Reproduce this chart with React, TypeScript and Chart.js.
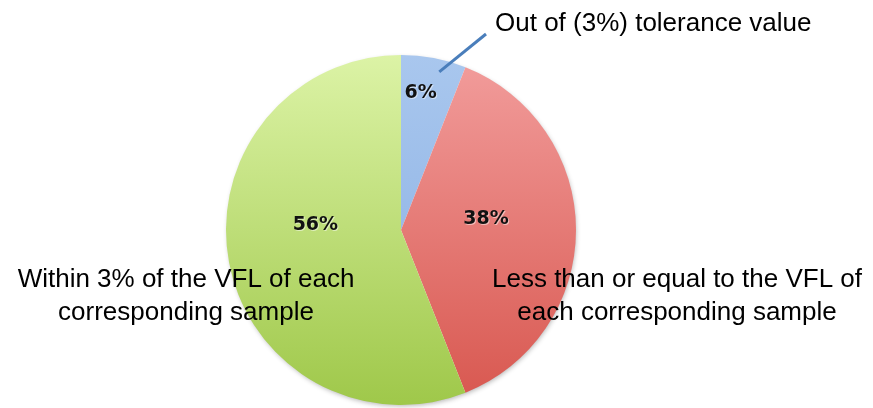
import React, { useEffect, useRef } from "react";
import { Chart, registerables } from "chart.js";

Chart.register(...registerables);

const categories = [
  "Out of (3%) tolerance value",
  "Less than or equal to the VFL of each corresponding sample",
  "Within 3% of the VFL of each corresponding sample",
];
const values = [6, 38, 56];
const percentLabels = ["6%", "38%", "56%"];
const topColors = ["#a9c7ee", "#f29d9c", "#dcf3a6"];
const bottomColors = ["#86ade2", "#d8574f", "#9fc84a"];
// label placement relative to slice: [fraction of radius, angle offset in degrees]
const labelPlacement: [number, number][] = [
  [0.79, -2.6],
  [0.49, -7],
  [0.49, 14],
];

export default function App() {
  const ref = useRef<HTMLCanvasElement | null>(null);

  useEffect(() => {
    if (!ref.current) return;

    const overlay = {
      id: "overlay",
      beforeDatasetsDraw(chart: any) {
        const ctx = chart.ctx;
        ctx.save();
        ctx.shadowColor = "rgba(0,0,0,0.3)";
        ctx.shadowBlur = 5;
        ctx.shadowOffsetX = 1;
        ctx.shadowOffsetY = 2;
        const arc = chart.getDatasetMeta(0).data[0];
        ctx.beginPath();
        ctx.arc(arc.x, arc.y, arc.outerRadius - 1, 0, Math.PI * 2);
        ctx.fillStyle = "#ffffff";
        ctx.fill();
        ctx.restore();
      },
      afterDatasetsDraw(chart: any) {
        const ctx = chart.ctx;
        const meta = chart.getDatasetMeta(0);
        ctx.save();
        // percent labels
        ctx.font = "bold 19px 'DejaVu Sans', Verdana, sans-serif";
        ctx.textAlign = "center";
        ctx.textBaseline = "middle";
        meta.data.forEach((a: any, i: number) => {
          const mid = (a.startAngle + a.endAngle) / 2 + (labelPlacement[i][1] * Math.PI) / 180;
          const r = a.outerRadius * labelPlacement[i][0];
          const x = a.x + Math.cos(mid) * r;
          const y = a.y + Math.sin(mid) * r;
          ctx.fillStyle = "rgba(255,255,255,0.5)";
          ctx.fillText(percentLabels[i], x + 1, y + 1);
          ctx.fillStyle = "#111111";
          ctx.fillText(percentLabels[i], x, y);
        });

        // leader line for small slice
        const b = meta.data[0];
        const ang = b.startAngle + (b.endAngle - b.startAngle) * 0.63;
        const sx = b.x + Math.cos(ang) * b.outerRadius * 0.93;
        const sy = b.y + Math.sin(ang) * b.outerRadius * 0.93;
        ctx.strokeStyle = "#4a7ebb";
        ctx.lineWidth = 3;
        ctx.beginPath();
        ctx.moveTo(sx, sy);
        ctx.lineTo(486, 34);
        ctx.stroke();

        // category labels
        ctx.font = "26px 'Liberation Sans', Arial, sans-serif";
        ctx.fillStyle = "#000000";
        ctx.textAlign = "left";
        ctx.fillText(categories[0], 495, 24);
        ctx.textAlign = "center";
        ctx.fillText("Within 3% of the VFL of each", 186, 280);
        ctx.fillText("corresponding sample", 186, 313);
        ctx.fillText("Less than or equal to the VFL of", 677, 280);
        ctx.fillText("each corresponding sample", 677, 313);
        ctx.restore();
      },
    };

    const chart = new Chart(ref.current, {
      type: "pie",
      data: {
        labels: categories,
        datasets: [
          {
            data: values,
            backgroundColor: (c: any) => {
              const area = c.chart.chartArea;
              const i = c.dataIndex;
              if (!area) return topColors[i];
              const g = c.chart.ctx.createLinearGradient(0, area.top, 0, area.bottom);
              g.addColorStop(0, topColors[i]);
              g.addColorStop(1, bottomColors[i]);
              return g;
            },
            borderWidth: 0,
          },
        ],
      },
      options: {
        animation: false,
        responsive: false,
        maintainAspectRatio: false,
        layout: { padding: { top: 55, bottom: 3, left: 0, right: 71 } },
        plugins: {
          legend: { display: false },
          tooltip: { enabled: false },
        },
      },
      plugins: [overlay],
    });
    return () => chart.destroy();
  }, []);

  return (
    <div style={{ position: "fixed", left: 0, top: 0, width: 873, height: 408, background: "#fff" }}>
      <canvas ref={ref} width={873} height={408} style={{ width: 873, height: 408 }} />
    </div>
  );
}
